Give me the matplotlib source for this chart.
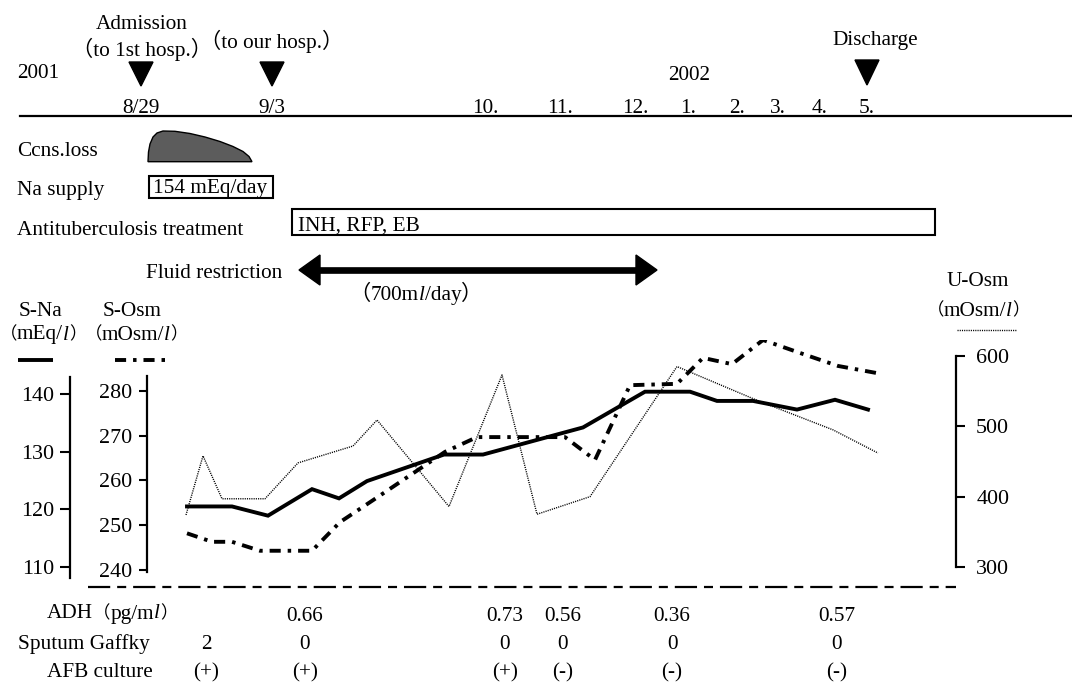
import matplotlib
matplotlib.use('Agg')
import matplotlib.pyplot as plt
from matplotlib.patches import Polygon, Rectangle
from matplotlib.offsetbox import TextArea, HPacker, AnnotationBbox

plt.rcParams['font.family'] = ['Liberation Serif', 'Noto Sans CJK JP']
plt.rcParams['lines.scale_dashes'] = False

# ---------------- data ----------------
# x = position on the (non-linear) clinical timeline
na_x = [187, 232, 268, 312, 339, 367, 444, 483, 583, 645, 690, 717, 753, 797, 835, 868]
na_val = [120.5, 120.5, 118.9, 123.5, 121.9, 124.9, 129.5, 129.5, 134.2, 140.4, 140.4,
          138.8, 138.8, 137.3, 139.0, 137.3]

osm_x = [187, 212, 232, 260, 312, 340, 373, 445, 477, 565, 595, 630, 677, 703, 732, 763,
         800, 838, 877]
osm_val = [248.2, 246.3, 246.3, 244.3, 244.3, 250.7, 255.6, 266.4, 269.7, 269.7, 264.6,
           281.3, 281.6, 287.4, 286.0, 291.4, 288.5, 285.6, 284.0]

uosm_x = [186, 203, 222, 265, 298, 353, 377, 449, 502, 537, 590, 677, 757, 833, 878]
uosm_val = [374, 458, 397, 397, 448, 472, 509, 386, 573, 375, 400, 585, 537, 495, 462]

na_ticks = [110, 120, 130, 140]
osm_ticks = [240, 250, 260, 270, 280]
uosm_ticks = [300, 400, 500, 600]

month_labels = ['8/29', '9/3', '10.', '11.', '12.', '1.', '2.', '3.', '4.', '5.']
month_pos = [141, 272, 485, 560, 635, 688, 737, 778, 820, 867]

adh_vals = ['', '0.66', '0.73', '0.56', '0.36', '0.57']
gaffky_vals = ['2', '0', '0', '0', '0', '0']
afb_vals = ['(+)', '(+)', '(+)', '(-)', '(-)', '(-)']
table_pos = [206, 305, 505, 563, 672, 837]

# ---------------- figure ----------------
W, H, DPI = 1072, 684, 100
FS = 15.3
fig = plt.figure(figsize=(W / DPI, H / DPI), dpi=DPI)
fig.patch.set_facecolor('white')
ax0 = fig.add_axes([0, 0, 1, 1])
ax0.set_xlim(0, W)
ax0.set_ylim(H, 0)
ax0.axis('off')

serif = dict(family=['Liberation Serif', 'Noto Sans CJK JP'], size=FS, color='black')
cjk = dict(family='Noto Sans CJK JP', size=FS, color='black')
cjk_s = dict(family='Noto Sans CJK JP', size=12.5, color='black')
ital = dict(family='Liberation Serif', size=FS, style='italic', color='black')
rm = dict(family='Liberation Serif', size=FS, color='black')


def txt(x, y, s, ha='left', va='baseline', **kw):
    p = dict(serif)
    p.update(kw)
    ax0.text(x, y, s, ha=ha, va=va, **p)


def rich(x, y, parts, ha=0.5):
    children = [TextArea(s, textprops=p) for s, p in parts]
    box = HPacker(children=children, align='baseline', pad=0, sep=0)
    ab = AnnotationBbox(box, (x, y), xycoords='data', frameon=False, pad=0,
                        box_alignment=(ha, 0.5))
    ax0.add_artist(ab)


def tri(x, ytop, ybot, half=12):
    ax0.add_patch(Polygon([(x - half, ytop), (x + half, ytop), (x, ybot)],
                          closed=True, fc='black', ec='black'))


# timeline
ax0.plot([20, W], [116, 116], color='black', lw=1.6)
txt(17, 78, '2001')
txt(689, 80, '2002', ha='center')
txt(142, 29, 'Admission', ha='center')
txt(142, 56, '（to 1st hosp.）', ha='center')
txt(272, 48, '（to our hosp.）', ha='center')
txt(875, 45, 'Discharge', ha='center')
tri(141, 62, 86)
tri(272, 62, 86)
tri(867, 60, 85)
for lab, xp in zip(month_labels, month_pos):
    txt(xp, 113, lab, ha='center')

# Ccns.loss
txt(17, 155.5, 'Ccns.loss')
ccns = [(148, 161.7), (148.5, 152), (150, 144), (153, 137), (157, 133), (163, 131),
        (175, 131.3), (190, 133.5), (205, 137), (220, 141.5), (233, 146.5), (243, 151.5),
        (249, 156.5), (252, 161.7)]
ax0.add_patch(Polygon(ccns, closed=True, fc='#5c5c5c', ec='black', lw=1.0))

# Na supply
txt(17, 195, 'Na supply')
ax0.add_patch(Rectangle((149, 175.7), 123.5, 22, fill=False, ec='black', lw=1.5))
txt(153, 193, '154 mEq/day')

# Antituberculosis treatment
txt(17, 235, 'Antituberculosis treatment')
ax0.add_patch(Rectangle((292, 209), 643, 25.5, fill=False, ec='black', lw=1.5))
txt(298, 231, 'INH, RFP, EB')

# Fluid restriction
txt(282, 278, 'Fluid restriction', ha='right')
ax0.plot([316, 640], [270, 270], color='black', lw=4.8, solid_capstyle='butt')
ax0.add_patch(Polygon([(299, 270), (320, 255), (320, 285)], closed=True, fc='black', ec='black'))
ax0.add_patch(Polygon([(657, 270), (636, 255), (636, 285)], closed=True, fc='black', ec='black'))
rich(416, 294, [('（', cjk), ('700m', rm), ('l', ital), ('/day', rm), ('）', cjk)])

# axis titles / legends
txt(40, 316.5, 'S-Na', ha='center')
rich(43, 335, [('（', cjk_s), ('mEq/', rm), ('l', ital), ('）', cjk_s)])
ax0.plot([18, 53], [360, 360], color='black', lw=2.8, solid_capstyle='butt')
txt(132, 316.5, 'S-Osm', ha='center')
rich(136, 335, [('（', cjk_s), ('mOsm/', rm), ('l', ital), ('）', cjk_s)])
ax0.plot([115, 166], [360, 360], color='black', lw=2.8, dashes=(8, 5, 2.5, 5))
txt(978, 286.5, 'U-Osm', ha='center')
rich(978, 311, [('（', cjk_s), ('mOsm/', rm), ('l', ital), ('）', cjk_s)])
ax0.plot([957, 1017], [330, 330], color='black', lw=1.0, dashes=(0.8, 0.8))

# baseline dashed
ax0.plot([88, 956], [587, 587], color='black', lw=1.6, dashes=(16, 5, 6.5, 5))

# bottom table
rich(112, 614, [('ADH', rm), ('（', cjk_s), ('pg/m', rm), ('l', ital), ('）', cjk_s)])
txt(150, 649, 'Sputum Gaffky', ha='right')
txt(153, 677, 'AFB culture', ha='right')
for a, g, c, xp in zip(adh_vals, gaffky_vals, afb_vals, table_pos):
    if a:
        txt(xp, 621, a, ha='center')
    txt(xp, 649, g, ha='center')
    txt(xp, 677, c, ha='center')

# ---------------- data axes ----------------
top_px, bot_px = 340, 600


def lims(v1, p1, v2, p2):
    k = (v1 - v2) / (p2 - p1)
    return v1 + (p1 - bot_px) * k, v1 + (p1 - top_px) * k


axN = fig.add_axes([0, 1 - bot_px / H, 1, (bot_px - top_px) / H])
axN.patch.set_visible(False)
axN.set_xlim(0, W)
axN.set_ylim(*lims(140, 394, 110, 567))
axO = axN.twinx()
axO.set_ylim(*lims(280, 391, 240, 570))
axU = axN.twinx()
axU.set_ylim(*lims(600, 356, 300, 567))

for a in (axN, axO, axU):
    a.set_xticks([])
    for s in a.spines.values():
        s.set_visible(False)
        s.set_linewidth(1.6)

axN.spines['left'].set_visible(True)
axN.spines['left'].set_position(('data', 70))
axN.spines['left'].set_bounds(108.1, 143.0)
axN.set_yticks(na_ticks)
axN.tick_params(axis='y', direction='out', length=7, width=1.5, pad=4.5, labelsize=FS + 0.5)

axO.yaxis.tick_left()
axO.spines['left'].set_visible(True)
axO.spines['left'].set_position(('data', 147))
axO.spines['left'].set_bounds(239.6, 283.4)
axO.set_yticks(osm_ticks)
axO.tick_params(axis='y', direction='out', length=5.5, width=1.5, pad=5.5, labelsize=FS + 0.5)

axU.yaxis.tick_right()
axU.spines['right'].set_visible(True)
axU.spines['right'].set_position(('data', 956))
axU.spines['right'].set_bounds(300, 600)
axU.set_yticks(uosm_ticks)
axU.tick_params(axis='y', direction='out', length=6.5, width=1.5, pad=8, labelsize=FS + 0.5)

for a in (axN, axO, axU):
    for lab in a.get_yticklabels():
        lab.set_family('Liberation Serif')

axU.plot(uosm_x, uosm_val, color='black', lw=1.0, dashes=(0.8, 0.8))
axO.plot(osm_x, osm_val, color='black', lw=2.8, dashes=(8, 5, 2.5, 5))
axN.plot(na_x, na_val, color='black', lw=2.8, solid_joinstyle='miter')

fig.savefig('out.png', dpi=DPI, facecolor='white')
